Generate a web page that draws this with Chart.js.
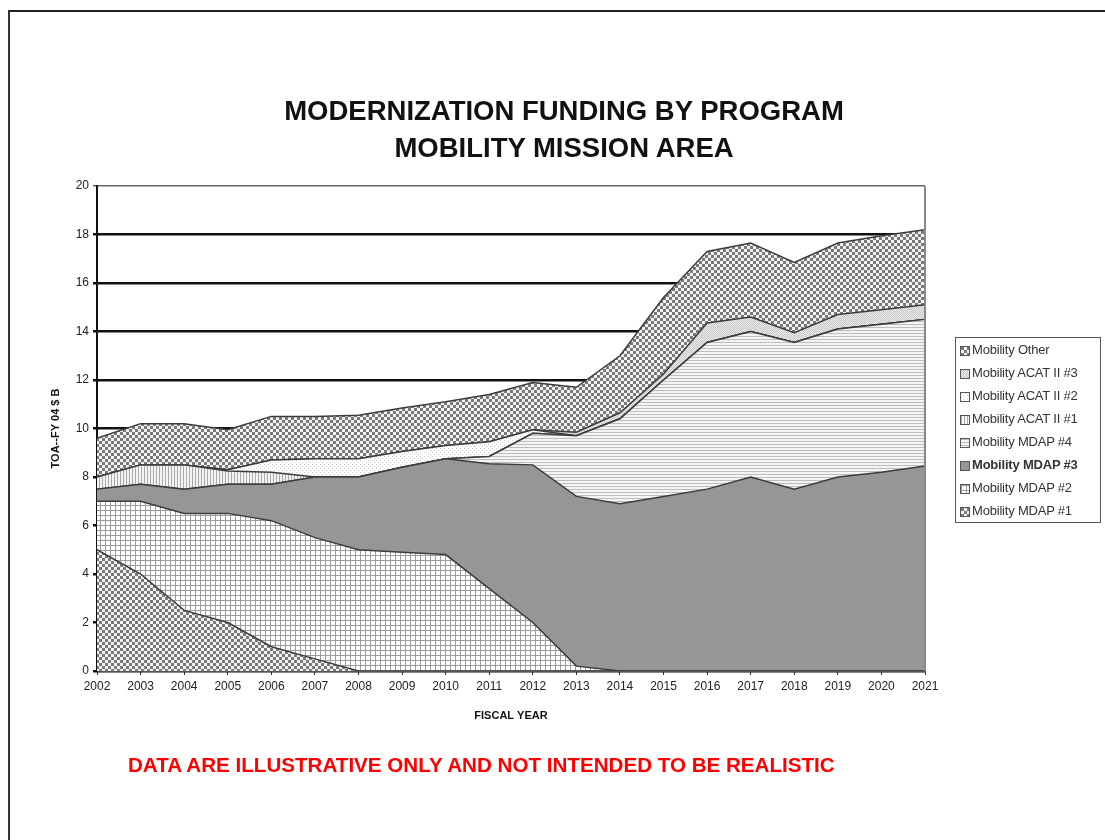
<!DOCTYPE html>
<html>
<head>
<meta charset="utf-8">
<title>Modernization Funding by Program</title>
<script src="https://cdn.jsdelivr.net/npm/chart.js@4.4.0/dist/chart.umd.min.js"></script>
<style>
  body { margin: 0; background: #fff; font-family: 'Liberation Sans', Arial, sans-serif; }
  #page { position: relative; width: 1105px; height: 840px; overflow: hidden; }
  #frame { position: absolute; left: 8px; top: 10px; width: 1200px; height: 900px; border-top: 2px solid #222; border-left: 2px solid #333; }
  #chart { position: absolute; left: 0; top: 0; }
  #title { position: absolute; left: 264px; top: 92px; width: 600px; text-align: center; font-weight: bold; font-size: 27.5px; line-height: 37px; color: #111; }
  #legend { position: absolute; left: 955px; top: 337px; width: 146px; height: 186px; box-sizing: border-box; border: 1px solid #555; font-size: 13px; color: #333; }
  .item { height: 23px; line-height: 23px; white-space: nowrap; padding-left: 4px; letter-spacing: -0.2px; }
  .item canvas { vertical-align: middle; margin-right: 2px; border: 1px solid #555; }
  #note { position: absolute; left: 128px; top: 753px; font-weight: bold; font-size: 20.6px; color: #f00; white-space: nowrap; }
</style>
</head>
<body>
<div id="page">
  <div id="frame"></div>
  <canvas id="chart" width="1105" height="840"></canvas>
  <div id="title">MODERNIZATION FUNDING BY PROGRAM<br>MOBILITY MISSION AREA</div>
  <div id="legend"></div>
  <div id="note">DATA ARE ILLUSTRATIVE ONLY AND NOT INTENDED TO BE REALISTIC</div>
</div>
<script>
// Data

var years = ['2002', '2003', '2004', '2005', '2006', '2007', '2008', '2009', '2010', '2011',
             '2012', '2013', '2014', '2015', '2016', '2017', '2018', '2019', '2020', '2021'];

var mdap1 = [5, 4, 2.5, 2, 1, 0.5, 0, 0, 0, 0, 0, 0, 0, 0, 0, 0, 0, 0, 0, 0];
var mdap2 = [2, 3, 4, 4.5, 5.2, 5, 5, 4.9, 4.8, 3.4, 2, 0.2, 0, 0, 0, 0, 0, 0, 0, 0];
var mdap3 = [0.5, 0.7, 1, 1.2, 1.5, 2.5, 3, 3.5, 3.95, 5.15, 6.5, 7, 6.9, 7.2, 7.5, 8, 7.5, 8, 8.2, 8.45];
var mdap4 = [0, 0, 0, 0, 0, 0, 0, 0, 0, 0.3, 1.3, 2.5, 3.5, 4.8, 6.05, 6, 6.05, 6.1, 6.1, 6.05];
var acat1 = [0.5, 0.8, 1, 0.55, 0.5, 0, 0, 0, 0, 0, 0, 0, 0, 0, 0, 0, 0, 0, 0, 0];
var acat2 = [0, 0, 0, 0.05, 0.5, 0.75, 0.75, 0.65, 0.55, 0.6, 0.15, 0, 0, 0, 0, 0, 0, 0, 0, 0];
var acat3 = [0, 0, 0, 0, 0, 0, 0, 0, 0, 0, 0, 0.15, 0.25, 0.25, 0.8, 0.6, 0.4, 0.6, 0.6, 0.6];
var other = [1.6, 1.7, 1.7, 1.65, 1.8, 1.75, 1.8, 1.8, 1.8, 1.95, 1.95, 1.85, 2.35, 3.15, 2.95, 3.05, 2.9, 2.95, 3.05, 3.1];

var seriesNames = ['Mobility MDAP #1', 'Mobility MDAP #2', 'Mobility MDAP #3', 'Mobility MDAP #4',
                   'Mobility ACAT II #1', 'Mobility ACAT II #2', 'Mobility ACAT II #3', 'Mobility Other'];
var seriesData = [mdap1, mdap2, mdap3, mdap4, acat1, acat2, acat3, other];
var seriesFill = ['checker', 'grid', 'solid', 'hstripe', 'vstripe', 'dots', 'fine', 'checker'];

var yMin = 0;
var yMax = 20;
var yStep = 2;

// Patterns

function makePattern(ctx, kind) {
  var tile = document.createElement('canvas');
  var t = tile.getContext('2d');
  if (kind === 'checker') {
    tile.width = 6; tile.height = 6;
    t.fillStyle = '#f2f2f2'; t.fillRect(0, 0, 6, 6);
    t.fillStyle = '#7a7a7a'; t.fillRect(0, 0, 3, 3); t.fillRect(3, 3, 3, 3);
  } else if (kind === 'grid') {
    tile.width = 5; tile.height = 5;
    t.fillStyle = '#ffffff'; t.fillRect(0, 0, 5, 5);
    t.fillStyle = '#9c9c9c'; t.fillRect(0, 0, 5, 1); t.fillRect(0, 0, 1, 5);
  } else if (kind === 'solid') {
    tile.width = 2; tile.height = 2;
    t.fillStyle = '#969696'; t.fillRect(0, 0, 2, 2);
  } else if (kind === 'hstripe') {
    tile.width = 3; tile.height = 3;
    t.fillStyle = '#f4f4f4'; t.fillRect(0, 0, 3, 3);
    t.fillStyle = '#bdbdbd'; t.fillRect(0, 0, 3, 1);
  } else if (kind === 'vstripe') {
    tile.width = 3; tile.height = 3;
    t.fillStyle = '#f4f4f4'; t.fillRect(0, 0, 3, 3);
    t.fillStyle = '#ababab'; t.fillRect(0, 0, 1, 3);
  } else if (kind === 'dots') {
    tile.width = 4; tile.height = 4;
    t.fillStyle = '#ffffff'; t.fillRect(0, 0, 4, 4);
    t.fillStyle = '#cccccc'; t.fillRect(0, 0, 1, 1); t.fillRect(2, 2, 1, 1);
  } else {
    tile.width = 2; tile.height = 2;
    t.fillStyle = '#e8e8e8'; t.fillRect(0, 0, 2, 2);
    t.fillStyle = '#cacaca'; t.fillRect(0, 0, 1, 1); t.fillRect(1, 1, 1, 1);
  }
  return ctx.createPattern(tile, 'repeat');
}

// Chart

var canvas = document.getElementById('chart');
var ctx = canvas.getContext('2d');

var datasets = seriesData.map(function (values, i) {
  return {
    label: seriesNames[i],
    data: values,
    fill: i === 0 ? 'origin' : '-1',
    backgroundColor: makePattern(ctx, seriesFill[i]),
    borderColor: '#3c3c3c',
    borderWidth: 1.5,
    pointRadius: 0,
    tension: 0
  };
});

var rightEdge = {
  id: 'rightEdge',
  afterDatasetsDraw: function (chart) {
    var a = chart.chartArea;
    var c = chart.ctx;
    c.save();
    c.strokeStyle = '#8a8a8a';
    c.lineWidth = 2;
    c.beginPath();
    c.moveTo(a.right, a.top);
    c.lineTo(a.right, a.bottom);
    c.stroke();
    c.restore();
  }
};

var myChart = new Chart(ctx, {
  type: 'line',
  data: { labels: years, datasets: datasets },
  plugins: [rightEdge],
  options: {
    responsive: false,
    animation: false,
    layout: { padding: { left: 45, right: 180, top: 186, bottom: 113 } },
    plugins: {
      legend: { display: false },
      tooltip: { enabled: false }
    },
    scales: {
      x: {
        grid: { drawOnChartArea: false, color: '#333', tickLength: 4 },
        border: { color: '#555', width: 2 },
        ticks: { color: '#222', font: { size: 12 }, padding: 4, maxRotation: 0, autoSkip: false },
        title: { display: true, text: 'FISCAL YEAR', color: '#111', font: { size: 11, weight: 'bold' }, padding: { top: 4, bottom: 4 } },
        afterFit: function (scale) { scale.height = 56; }
      },
      y: {
        stacked: true,
        min: yMin,
        max: yMax,
        ticks: { stepSize: yStep, color: '#222', font: { size: 12 }, padding: 4 },
        grid: {
          color: function (c) { return c.tick.value === yMax ? '#666' : '#111'; },
          lineWidth: function (c) { return c.tick.value === yMax ? 1.5 : 2.5; },
          tickLength: 4
        },
        border: { color: '#111', width: 2 },
        title: { display: true, text: 'TOA--FY 04 $ B', color: '#111', font: { size: 11, weight: 'bold' }, padding: { top: 4, bottom: 4 } },
        afterFit: function (scale) { scale.width = 52; }
      }
    }
  }
});

// Legend

function buildLegend() {
  var box = document.getElementById('legend');
  for (var i = seriesNames.length - 1; i >= 0; i--) {
    var row = document.createElement('div');
    row.className = 'item';
    var sw = document.createElement('canvas');
    sw.width = 8; sw.height = 8;
    var sctx = sw.getContext('2d');
    sctx.fillStyle = makePattern(sctx, seriesFill[i]);
    sctx.fillRect(0, 0, 8, 8);
    var txt = document.createElement('span');
    txt.textContent = seriesNames[i];
    if (seriesNames[i] === 'Mobility MDAP #3') txt.style.fontWeight = 'bold';
    row.appendChild(sw);
    row.appendChild(txt);
    box.appendChild(row);
  }
}

buildLegend();
</script>
</body>
</html>
